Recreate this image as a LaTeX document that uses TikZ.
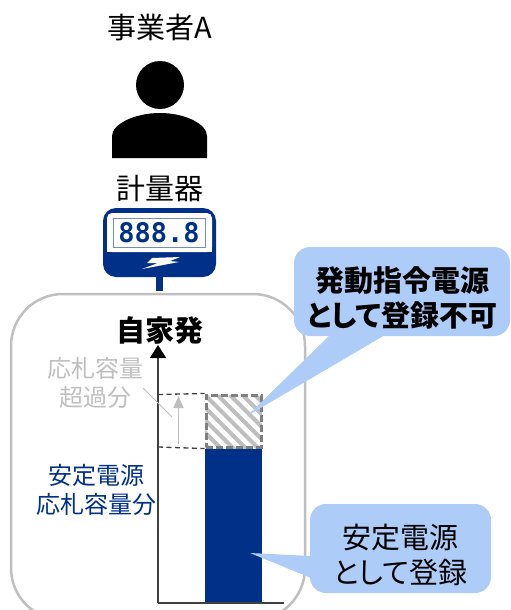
\documentclass[tikz,border=0pt]{standalone}
\usepackage{fontspec}
\setmainfont[RawFeature={+palt}]{Noto Sans CJK JP}
\newfontfamily\digitfont{DejaVu Sans Mono}
\usetikzlibrary{arrows.meta}
\definecolor{navy}{HTML}{003087}
\definecolor{callout}{HTML}{ADCCF8}
\definecolor{framegray}{HTML}{BFBFBF}
\definecolor{axisgray}{HTML}{404040}
\definecolor{dashgray}{HTML}{7F7F7F}
\tikzset{
  lbl/.style={inner sep=0pt,align=center,text=black,font=\fontsize{29}{29}\selectfont},
  big/.style={inner sep=0pt,align=center,font=\fontsize{29}{35.5}\selectfont},
  small/.style={inner sep=0pt,align=center,font=\fontsize{24}{29}\selectfont},
  calloutbox/.style={fill=callout,rounded corners=16pt,inner sep=0pt,minimum width=#1,minimum height=89pt},
  guide/.style={axisgray,line width=1.3pt,dash pattern=on 5pt off 3.5pt},
}
\begin{document}
\begin{tikzpicture}[x=1pt,y=-1pt]
\useasboundingbox (0,0) rectangle (511,610);
\clip (0,0) rectangle (511,610);
% frame
\node[draw=framegray,line width=2.5pt,rounded corners=52pt,minimum width=294pt,minimum height=326pt,inner sep=0pt] (frame) at (158,457) {};
% person
\fill[black] (160,85) circle (24);
\fill[black] (112,158) -- (112,136) .. controls (112,124) and (135,113) .. (160,113) .. controls (185,113) and (207,124) .. (207,136) -- (207,158) -- cycle;
\node[lbl] (title) at (160,28) {事業者A};
\node[lbl] (meterlabel) at (160,189) {計量器};
% meter
\fill[navy] (156,270) rectangle (163,291);
\node[fill=navy,rounded corners=13pt,minimum width=113pt,minimum height=69pt,inner sep=0pt] (meter) at (159.5,242.5) {};
\fill[white,rounded corners=5pt] (107,252) -- (107,213) -- (212,213) -- (212,252) -- cycle;
\fill[white] (107,245) rectangle (212,252);
\node[draw=navy!55,fill=white,line width=0.8pt,minimum width=92pt,minimum height=29pt,inner sep=0pt] (display) at (159,232.5) {};
\node[text=navy,inner sep=0pt] (digits) at (159,232.5) {\digitfont\bfseries\fontsize{27}{27}\selectfont 888.8};
\fill[white] (152,258) -- (180,257) -- (170,261) -- (179,262) -- (142,269) -- (158,263) -- (147,263) -- cycle;
% bars
\node[fill=navy,minimum width=57pt,minimum height=155pt,inner sep=0pt] (bar) at (233.5,526) {};
\begin{scope}
  \clip (205,395) rectangle (262,448);
  \foreach \i in {-6,...,6} {
    \draw[framegray,line width=4pt] (205+\i*12.5,395) -- (205+\i*12.5+60,455);
  }
\end{scope}
\node[draw=dashgray,line width=3pt,dash pattern=on 7pt off 3pt,minimum width=55pt,minimum height=52pt,inner sep=0pt] (excess) at (233.5,421) {};
% axis
\coordinate (origin) at (158,603);
\coordinate (axistop) at (158,345);
\coordinate (xend) at (284,603);
\draw[axisgray,line width=1.6pt,-{Triangle[length=13pt,width=16pt,black]}] (origin) -- (axistop);
\draw[axisgray,line width=1.6pt] (origin) -- (xend);
\coordinate (ga) at (158,394.5);
\coordinate (gb) at (158,447);
\draw[guide] (ga) -- (excess.north west);
\draw[guide] (gb) -- (excess.south west);
% gray dimension arrow
\coordinate (da) at (178.5,444);
\coordinate (db) at (178.5,396);
\draw[framegray,line width=1.8pt,-{Triangle[length=12pt,width=10pt]}] (da) -- (db);
\coordinate (la) at (143,388);
\coordinate (lb) at (172,417);
\draw[framegray,line width=1pt] (la) -- (lb);
% labels
\node[lbl,font=\fontsize{29}{29}\selectfont\bfseries] (self) at (160,331) {自家発};
\node[small,text=framegray] (overlabel) at (95,383) {応札容量\\超過分};
\node[small,text=navy] (bidlabel) at (96.5,490) {安定電源\\応札容量分};
% callouts
\node[calloutbox=216pt] (c1) at (402,291.5) {};
\coordinate (tip1) at (247,416);
\fill[callout] (330,335) -- (tip1) -- (385,335) -- cycle;
\node[big,font=\fontsize{29}{35.5}\selectfont\bfseries] (c1t) at (402,298) {発動指令電源\\として登録不可};
\node[calloutbox=181pt] (c2) at (400.5,548.5) {};
\coordinate (tip2) at (250,553);
\fill[callout] (311,556) -- (tip2) -- (311,578) -- cycle;
\node[big] (c2t) at (400.5,555) {安定電源\\として登録};
\end{tikzpicture}
\end{document}
